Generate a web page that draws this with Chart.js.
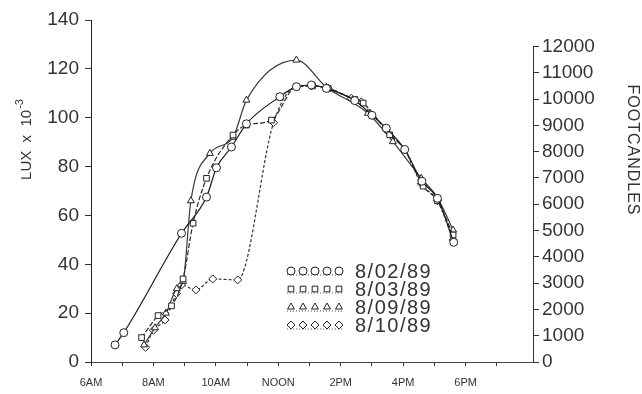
<!DOCTYPE html>
<html>
<head>
<meta charset="utf-8">
<script src="https://cdn.jsdelivr.net/npm/chart.js@4.4.1/dist/chart.umd.min.js"></script>
<style>
    html, body { margin: 0; padding: 0; background: #fff; }
</style>
</head>
<body>
<canvas id="luxChart" width="642" height="394"></canvas>
<script>
// series names as in the legend
const seriesLabels = ['8/02/89', '8/03/89', '8/09/89', '8/10/89'];

// hours of day (decimal) and lux x 10^-3
const hours0802 = [6.77, 7.05, 8.9, 9.7, 10.02, 10.5, 10.98, 12.05, 12.58, 13.06, 13.54, 14.45, 15.0, 15.46, 16.05, 16.6, 17.1, 17.62];
const lux0802   = [7, 12, 52.7, 67.5, 79.5, 88, 97.5, 108.6, 112.7, 113.4, 112, 107, 101, 95.7, 87, 74, 67, 49];

const hours0803 = [7.62, 8.15, 8.58, 8.95, 9.27, 9.7, 10.55, 10.98, 11.78, 12.58, 13.1, 13.6, 14.45, 14.72, 15.57, 16.05, 16.64, 17.1, 17.6];
const lux0803   = [10, 19, 23, 34, 56.8, 75.2, 92.9, 97, 99, 112.7, 113, 112, 107.5, 106, 93, 87, 72, 66, 52];

const hours0809 = [7.7, 8.05, 8.4, 8.75, 8.95, 9.2, 9.81, 10.55, 10.98, 12.58, 13.54, 14.87, 15.67, 16.58, 17.11, 17.6];
const lux0809   = [7, 14, 20, 30, 33, 66, 85.4, 92, 107.2, 123.6, 112.5, 101.8, 90.2, 75.2, 67, 54];

const hours0810 = [7.75, 8.0, 8.37, 8.74, 8.9, 9.36, 9.9, 10.7, 11.85, 12.58, 13.06, 13.6, 14.34, 14.66, 15.46, 16.05, 16.58, 17.1, 17.6];
const lux0810   = [6, 13, 17.2, 28, 31.5, 29.5, 34, 33.6, 98, 112.7, 113, 112, 108, 106.5, 95, 86.8, 73, 66, 50];

// axis labels
const xTickLabels = { 6: '6AM', 8: '8AM', 10: '10AM', 12: 'NOON', 14: '2PM', 16: '4PM', 18: '6PM' };
const fcTicks = [0, 1000, 2000, 3000, 4000, 5000, 6000, 7000, 8000, 9000, 10000, 11000, 12000];
const luxMax = 140;
const luxPerFc = 10.764; // 1 footcandle = 10.764 lux

const allHours = [hours0802, hours0803, hours0809, hours0810];
const allLux = [lux0802, lux0803, lux0809, lux0810];
const markerStyles = ['circle', 'rect', 'triangle', 'rectRot'];
const lineDashes = [[], [5, 2], [], [3, 2]];
const lineColors = ['#1a1a1a', '#2a2a2a', '#3a3a3a', '#333'];

const datasets = seriesLabels.map((label, i) => ({
    label: label,
    data: allHours[i].map((h, k) => ({ x: h, y: allLux[i][k] })),
    borderColor: lineColors[i],
    borderWidth: 1.2,
    borderDash: lineDashes[i],
    pointStyle: markerStyles[i],
    pointRadius: 4,
    pointBackgroundColor: '#fff',
    pointBorderColor: '#222',
    pointBorderWidth: 1,
    cubicInterpolationMode: 'monotone',
    fill: false,
    yAxisID: 'y'
}));

// titles, legend and the right axis line are drawn here
const extras = {
    id: 'extras',
    afterDraw(chart) {
        const ctx = chart.ctx;
        const y2 = chart.scales.y2;
        ctx.save();

        // right axis line, 0 to 12000 only
        ctx.strokeStyle = '#333';
        ctx.lineWidth = 1;
        ctx.beginPath();
        ctx.moveTo(y2.left + 0.5, y2.getPixelForValue(0));
        ctx.lineTo(y2.left + 0.5, y2.getPixelForValue(fcTicks[fcTicks.length - 1]));
        ctx.stroke();

        ctx.fillStyle = '#333';
        ctx.textBaseline = 'middle';

        // left title with superscript
        ctx.save();
        ctx.translate(27, 140);
        ctx.rotate(-Math.PI / 2);
        ctx.font = "15px 'Liberation Sans'";
        const main = 'LUX  x  10';
        const w1 = ctx.measureText(main).width;
        ctx.font = "11px 'Liberation Sans'";
        const w2 = ctx.measureText('-3').width;
        ctx.textAlign = 'left';
        ctx.font = "15px 'Liberation Sans'";
        ctx.fillText(main, -(w1 + w2) / 2, 0);
        ctx.font = "11px 'Liberation Sans'";
        ctx.fillText('-3', -(w1 + w2) / 2 + w1 + 1, -7);
        ctx.restore();

        // right title
        ctx.save();
        ctx.translate(632, 150);
        ctx.rotate(Math.PI / 2);
        ctx.font = "16px 'Liberation Sans'";
        ctx.letterSpacing = '1px';
        ctx.textAlign = 'center';
        ctx.fillText('FOOTCANDLES', 0, 0);
        ctx.restore();

        // legend inside the plot
        seriesLabels.forEach((label, i) => {
            const y = 271 + 18 * i;
            ctx.strokeStyle = '#555';
            ctx.setLineDash([1, 2]);
            ctx.beginPath();
            ctx.moveTo(287, y + 4);
            ctx.lineTo(343, y + 4);
            ctx.stroke();
            ctx.setLineDash([]);
            ctx.strokeStyle = '#222';
            ctx.fillStyle = '#fff';
            for (let k = 0; k < 5; k++) {
                Chart.helpers.drawPoint(ctx, { pointStyle: markerStyles[i], radius: 4, borderWidth: 1 }, 291 + 12 * k, y);
            }
            ctx.fillStyle = '#333';
            ctx.font = "20px 'Liberation Sans'";
            ctx.letterSpacing = '1.5px';
            ctx.textAlign = 'left';
            ctx.fillText(label, 355, y + 1);
            ctx.letterSpacing = '0px';
        });

        ctx.restore();
    }
};

new Chart(document.getElementById('luxChart'), {
    type: 'line',
    data: { datasets: datasets },
    plugins: [extras],
    options: {
        responsive: false,
        animation: false,
        devicePixelRatio: 1,
        layout: { padding: { top: 20, left: 0, right: 0, bottom: 0 } },
        plugins: {
            legend: { display: false },
            tooltip: { enabled: false }
        },
        scales: {
            x: {
                type: 'linear',
                min: 6,
                max: 20.16,
                ticks: {
                    stepSize: 1,
                    autoSkip: false,
                    maxRotation: 0,
                    padding: 10,
                    color: '#333',
                    font: { size: 11, family: "'Liberation Sans'" },
                    callback: v => Number.isInteger(v) ? (xTickLabels[v] || '') : null
                },
                grid: { drawOnChartArea: false, tickLength: 4, color: '#333' },
                border: { color: '#444', dash: [3, 2] },
                afterFit: s => { s.height = 32; }
            },
            y: {
                position: 'left',
                min: 0,
                max: luxMax,
                ticks: {
                    stepSize: 20,
                    padding: 6,
                    color: '#333',
                    font: { size: 19, family: "'Liberation Sans'" }
                },
                grid: { drawOnChartArea: false, tickLength: 6, color: '#333' },
                border: { color: '#222' },
                afterFit: s => { s.width = 91; }
            },
            y2: {
                position: 'right',
                min: 0,
                max: luxMax / luxPerFc * 1000,
                afterBuildTicks: s => { s.ticks = fcTicks.map(v => ({ value: v })); },
                ticks: {
                    padding: 3,
                    color: '#333',
                    font: { size: 19, family: "'Liberation Sans'" },
                    callback: v => String(v)
                },
                grid: { drawOnChartArea: false, tickLength: 6, color: '#333' },
                border: { display: false },
                afterFit: s => { s.width = 109; }
            }
        }
    }
});
</script>
</body>
</html>
